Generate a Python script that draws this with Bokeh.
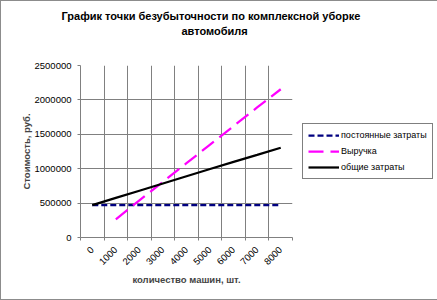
import math
from bokeh.plotting import figure
from bokeh.models import (Range1d, FixedTicker, Legend, LegendItem, Title,
                          NumeralTickFormatter, ColumnDataSource)
from bokeh.embed import file_html
from bokeh.resources import INLINE

# ---- data ----
categories = ["0", "1000", "2000", "3000", "4000", "5000", "6000", "7000", "8000"]
fixed_costs = [470000, 470000, 470000, 470000, 470000, 470000, 470000, 470000, 470000]
revenue = [float("nan"), 265000, 540000, 810000, 1080000, 1350000, 1620000, 1890000, 2155000]
total_costs = [470000, 575000, 680000, 785000, 890000, 995000, 1100000, 1200000, 1305000]
y_ticks = [0, 500000, 1000000, 1500000, 2000000, 2500000]

series_names = ["постоянные затраты", "Выручка", "общие затраты"]
title_line1 = "График точки безубыточности по комплексной уборке"
title_line2 = "автомобиля"
x_title = "количество машин, шт."
y_title = "Стоимость, руб."

FONT = "Liberation Sans"
GRID = "#808080"

# category slots: category i sits in the middle of slot [i, i+1]
xpos = [i + 0.5 for i in range(len(categories))]
src = ColumnDataSource(dict(x=xpos, fixed=fixed_costs, rev=revenue, total=total_costs))

p = figure(frame_width=212, frame_height=172, output_backend="svg", toolbar_location=None,
           x_range=Range1d(0, len(categories)), y_range=Range1d(y_ticks[0], y_ticks[-1]),
           min_border_left=79, min_border_right=144, min_border_top=64, min_border_bottom=62)
p.styles = {"border": "1px solid #8c8c8c"}
p.outline_line_color = None
p.background_fill_color = "white"
p.border_fill_color = "white"

# titles (added from the plot outward: spacer, second line, first line)
spacer = Title(text=" ", standoff=14, text_font=FONT, text_font_size="11px")
t2 = Title(text=title_line2, align="left", offset=101, standoff=2,
           text_font=FONT, text_font_size="11px", text_font_style="bold", text_color="black")
t1 = Title(text=title_line1, align="left", offset=-19, standoff=0,
           text_font=FONT, text_font_size="11px", text_font_style="bold", text_color="black")
p.add_layout(spacer, "above")
p.add_layout(t2, "above")
p.add_layout(t1, "above")

# axes
xa = p.xaxis[0]
xa.ticker = FixedTicker(ticks=xpos, minor_ticks=list(range(len(categories) + 1)))
xa.major_label_overrides = {x: c for x, c in zip(xpos, categories)}
xa.major_label_orientation = math.pi / 4
xa.major_tick_out = 0
xa.major_tick_in = 0
xa.minor_tick_out = 3
xa.minor_tick_in = 0
xa.minor_tick_line_color = GRID
xa.axis_line_color = GRID
xa.major_label_text_font = FONT
xa.major_label_text_font_size = "9.5px"
xa.major_label_text_color = "black"
xa.major_label_standoff = 8
xa.axis_label = x_title
xa.axis_label_text_font = FONT
xa.axis_label_text_font_size = "9.5px"
xa.axis_label_text_font_style = "bold"
xa.axis_label_standoff = 3

ya = p.yaxis[0]
ya.ticker = FixedTicker(ticks=y_ticks, minor_ticks=[])
ya.formatter = NumeralTickFormatter(format="0")
ya.major_tick_out = 3
ya.major_tick_in = 0
ya.major_tick_line_color = GRID
ya.axis_line_color = GRID
ya.major_label_text_font = FONT
ya.major_label_text_font_size = "9.5px"
ya.major_label_text_color = "black"
ya.major_label_standoff = 6
ya.axis_label = y_title
ya.axis_label_text_font = FONT
ya.axis_label_text_font_size = "9.5px"
ya.axis_label_text_font_style = "bold"
ya.axis_label_standoff = 0

# grid at category boundaries / inner value ticks
p.xgrid.ticker = FixedTicker(ticks=list(range(1, len(categories))))
p.ygrid.ticker = FixedTicker(ticks=y_ticks[1:-1])
for g in (p.xgrid[0], p.ygrid[0]):
    g.grid_line_color = GRID
    g.grid_line_width = 1

r_fixed = p.line("x", "fixed", source=src, line_color="#000080", line_width=2.25, line_dash="6 3")
r_rev = p.line("x", "rev", source=src, line_color="#ff00ff", line_width=2.25, line_dash="15 7")
r_total = p.line("x", "total", source=src, line_color="black", line_width=2.25)

legend = Legend(items=[LegendItem(label=series_names[0], renderers=[r_fixed]),
                       LegendItem(label=series_names[1], renderers=[r_rev]),
                       LegendItem(label=series_names[2], renderers=[r_total])],
                location="center_left")
legend.border_line_color = "black"
legend.border_line_width = 1
legend.background_fill_color = "white"
legend.background_fill_alpha = 1
legend.label_text_font = FONT
legend.label_text_font_size = "9px"
legend.label_text_color = "black"
legend.glyph_width = 31
legend.glyph_height = 12
legend.label_height = 12
legend.label_standoff = 2
legend.spacing = 4
legend.padding = 5
legend.margin = 10
p.add_layout(legend, "right")

open("out.html", "w").write(file_html(p, INLINE))
